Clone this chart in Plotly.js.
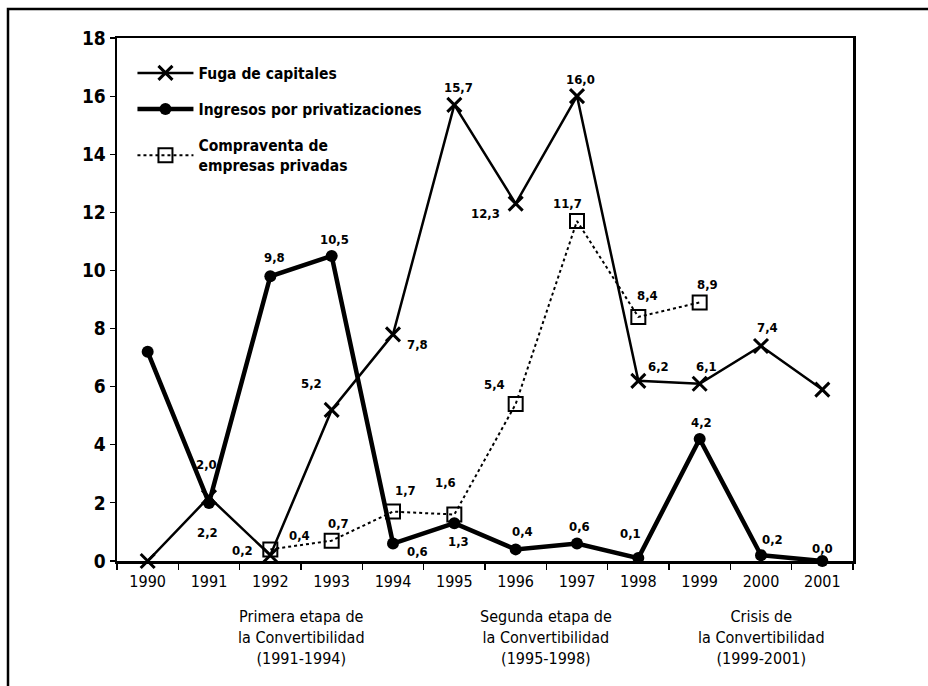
<!DOCTYPE html>
<html><head><meta charset="utf-8">
<script src="https://cdn.plot.ly/plotly-3.0.1.min.js"></script>
<style>html,body{margin:0;padding:0;background:#fff}#chart{width:928px;height:686px}</style>
</head><body><div id="chart"></div>
<script>
var years = ['1990','1991','1992','1993','1994','1995','1996','1997','1998','1999','2000','2001'];
var fuga = [0, 2.2, 0.2, 5.2, 7.8, 15.7, 12.3, 16.0, 6.2, 6.1, 7.4, 5.9];
var ingresos = [7.2, 2.0, 9.8, 10.5, 0.6, 1.3, 0.4, 0.6, 0.1, 4.2, 0.2, 0.0];
var compraventa = [null, null, 0.4, 0.7, 1.7, 1.6, 5.4, 11.7, 8.4, 8.9, null, null];
var yTicks = [0, 2, 4, 6, 8, 10, 12, 14, 16, 18];
var etapas = [
  {text: 'Primera etapa de<br>la Convertibilidad<br>(1991-1994)', from: '1991', to: '1994'},
  {text: 'Segunda etapa de<br>la Convertibilidad<br>(1995-1998)', from: '1995', to: '1998'},
  {text: 'Crisis de<br>la Convertibilidad<br>(1999-2001)', from: '1999', to: '2001'}
];
// label placement (pixel offsets: dx right, dy down); null = no label
var fugaOff = [null, [-2,35], [-28,-5], [-20,-26], [24,10], [4,-17], [-30,10], [3,-17], [20,-14], [7,-17], [6,-18], null];
var ingOff = [null, [-3,-38], [4,-19], [3,-16], [24,8], [4,18], [7,-18], [2,-17], [-8,-25], [2,-16], [11,-16], [0,-13]];
var cvOff = [null, null, [29,-14], [7,-17], [12,-21], [-9,-32], [-21,-20], [-10,-18], [9,-21], [8,-18], null, null];

var NARROW = '"DejaVu Sans Condensed", "Liberation Sans Narrow", "Arial Narrow", sans-serif';

var traces = [
  {x: years, y: fuga, name: 'Fuga de capitales', type: 'scatter', mode: 'lines+markers',
   line: {color: '#000', width: 2.5}, marker: {symbol: 'x-thin', size: 14, color: '#000', line: {color: '#000', width: 3}},
   cliponaxis: false, legendgroup: 'a'},
  {x: years, y: ingresos, name: 'Ingresos por privatizaciones', type: 'scatter', mode: 'lines+markers',
   line: {color: '#000', width: 4.5}, marker: {symbol: 'circle', size: 12, color: '#000'},
   cliponaxis: false, legendgroup: 'b'},
  {x: years, y: compraventa, name: 'Compraventa de<br>empresas privadas', type: 'scatter', mode: 'lines+markers',
   line: {color: '#000', width: 2, dash: 'dot'}, marker: {symbol: 'square-open', size: 14, color: '#000', line: {width: 2}},
   cliponaxis: false, legendgroup: 'c', connectgaps: false}
];

function fmt(v){ return v.toFixed(1).replace('.', ','); }
var annotations = [];
function addLabels(vals, offs){
  for (var i = 0; i < vals.length; i++){
    if (vals[i] === null || !offs[i]) continue;
    annotations.push({x: i, y: vals[i], xref: 'x', yref: 'y', text: fmt(vals[i]), showarrow: false,
      xshift: offs[i][0], yshift: -offs[i][1], font: {family: NARROW, size: 13, color: '#000', weight: 'bold'}});
  }
}
addLabels(fuga, fugaOff);
addLabels(ingresos, ingOff);
addLabels(compraventa, cvOff);

etapas.forEach(function(e){
  var c = (years.indexOf(e.from) + years.indexOf(e.to)) / 2;
  annotations.push({x: c, y: 0, xref: 'x', yref: 'paper', yanchor: 'top', yshift: -44, text: e.text, showarrow: false,
    align: 'center', font: {family: NARROW, size: 16, color: '#000'}});
});

var layout = {
  width: 928, height: 686,
  margin: {l: 117, r: 75, t: 38, b: 125},
  paper_bgcolor: '#fff', plot_bgcolor: '#fff',
  showlegend: true,
  legend: {x: 0.021, y: 0.965, xanchor: 'left', yanchor: 'top', bgcolor: 'rgba(0,0,0,0)', tracegroupgap: 13, itemwidth: 56,
    font: {family: NARROW, size: 15.5, color: '#000', weight: 'bold'}, traceorder: 'grouped'},
  xaxis: {type: 'category', range: [-0.5, 11.5], showline: true, linecolor: '#000', linewidth: 2.5, mirror: true,
    ticks: 'outside', tickson: 'boundaries', ticklen: 6, tickwidth: 1.2, tickcolor: '#000', showgrid: false, zeroline: false,
    ticklabelstandoff: 4,
    tickfont: {family: NARROW, size: 16, color: '#000'}, fixedrange: true},
  yaxis: {range: [0, 18], tickvals: yTicks, ticktext: yTicks.map(String), showline: true, linecolor: '#000', linewidth: 2.5, mirror: true,
    ticks: 'outside', ticklen: 5, tickwidth: 1.2, tickcolor: '#000', showgrid: false, zeroline: false,
    tickfont: {family: NARROW, size: 19, color: '#000', weight: 'bold'}, fixedrange: true},
  annotations: annotations,
  shapes: [
    {type: 'rect', xref: 'paper', yref: 'paper', x0: (8 - 117) / 736, x1: 1.2, y0: -0.3, y1: (561 - 9) / 523,
     line: {color: '#000', width: 2.5}, fillcolor: 'rgba(0,0,0,0)', layer: 'below'}
  ]
};
Plotly.newPlot('chart', traces, layout, {displayModeBar: false, staticPlot: true});
</script></body></html>
